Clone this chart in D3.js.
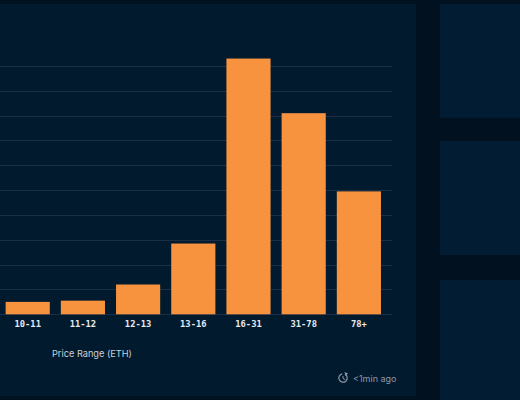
<!DOCTYPE html>
<html>
<head>
<meta charset="utf-8">
<script src="https://cdn.jsdelivr.net/npm/d3@7"></script>
<style>
  html, body { margin: 0; padding: 0; background: #02111f; }
  svg { display: block; }
</style>
</head>
<body>
<svg id="chart" width="520" height="400"></svg>
<script>
const categories = ["10-11", "11-12", "12-13", "13-16", "16-31", "31-78", "78+"];
const counts = [10, 11, 24, 57, 206, 162, 99];
const yTicks = [0, 20, 40, 60, 80, 100, 120, 140, 160, 180, 200];
const xTitle = "Price Range (ETH)";
const updatedText = "<1min ago";

const svg = d3.select("#chart");

// page background / layout cards
svg.append("rect").attr("x", 0).attr("y", 0).attr("width", 520).attr("height", 400).attr("fill", "#02111f");
svg.append("rect").attr("x", 0).attr("y", 4).attr("width", 416).attr("height", 392).attr("fill", "#011a2e");
[[4, 118], [141, 255], [280, 400]].forEach(([y0, y1]) => {
  svg.append("rect").attr("x", 440).attr("y", y0).attr("width", 80).attr("height", y1 - y0).attr("fill", "#021c33");
});

const x = d3.scaleBand().domain(categories).range([-5.4, 392]).paddingInner(0.2).paddingOuter(0.2);
const y = d3.scaleLinear().domain([0, 200]).range([314.3, 66]);

const g = svg.append("g");

// gridlines
g.selectAll("line.grid").data(yTicks).join("line")
  .attr("class", "grid")
  .attr("x1", 0).attr("x2", 392)
  .attr("y1", d => Math.round(y(d)) + 0.5).attr("y2", d => Math.round(y(d)) + 0.5)
  .attr("stroke", "#1a2f45").attr("stroke-width", 1);

// bars
g.selectAll("rect.bar").data(categories).join("rect")
  .attr("class", "bar")
  .attr("x", d => x(d))
  .attr("width", x.bandwidth())
  .attr("y", (d, i) => y(counts[i]))
  .attr("height", (d, i) => y(0) - y(counts[i]))
  .attr("fill", "#f7923f");

// x axis
const xAxis = d3.axisBottom(x).tickSize(0).tickPadding(6);
const ax = g.append("g").attr("transform", `translate(0,${y(0)})`).call(xAxis);
ax.select(".domain").remove();
ax.selectAll("text")
  .attr("fill", "#e6eaef")
  .attr("font-family", "'DejaVu Sans Mono', monospace")
  .attr("font-weight", "bold")
  .attr("font-size", 8.8);

// axis title
svg.append("text")
  .attr("x", 52).attr("y", 356.5)
  .attr("fill", "#c9d0d8")
  .attr("font-family", "Inter, 'Noto Sans', sans-serif")
  .attr("font-size", 9.2)
  .text(xTitle);

// updated note with refresh icon
const note = svg.append("g").attr("transform", "translate(343,378)");
note.append("path")
  .attr("d", d3.arc()({innerRadius: 3.6, outerRadius: 4.8, startAngle: 0.6, endAngle: 2 * Math.PI - 0.2}))
  .attr("fill", "#8a98a9");
note.append("path").attr("d", "M1.5,-6 L5,-4.5 L2.5,-2 Z").attr("fill", "#8a98a9");
note.append("path").attr("d", "M0,-2 L0,0.5 L2,1.5").attr("stroke", "#8a98a9").attr("stroke-width", 1).attr("fill", "none");
svg.append("text")
  .attr("x", 353).attr("y", 381.5)
  .attr("fill", "#8a98a9")
  .attr("font-family", "Inter, 'Noto Sans', sans-serif")
  .attr("font-size", 9)
  .text(updatedText);
</script>
</body>
</html>
